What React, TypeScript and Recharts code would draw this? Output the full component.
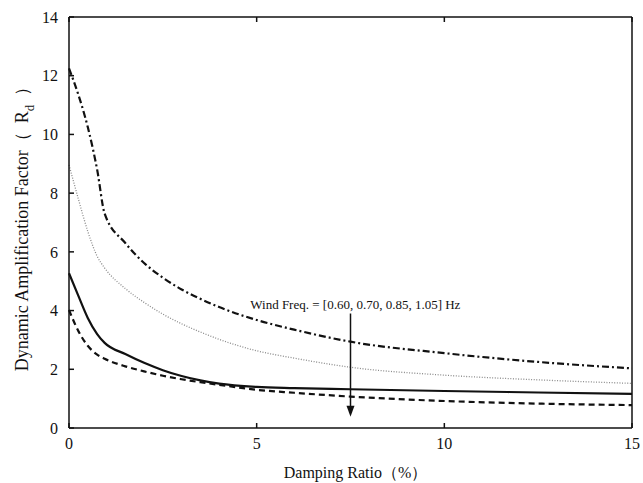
import { Line, LineChart, ReferenceDot, ReferenceLine, XAxis, YAxis, Label } from "recharts";

// damping ratio (%)
const damping = [0, 0.25, 0.5, 0.75, 0.95, 1.5, 2, 2.5, 3, 3.5, 4, 5, 6, 7.5, 10, 12.5, 15];
// dynamic amplification factor Rd for each wind frequency
const rd060 = [12.25, 11.35, 10.25, 8.8, 7.3, 6.3, 5.62, 5.12, 4.72, 4.4, 4.12, 3.68, 3.35, 2.94, 2.55, 2.25, 2.03];
const rd070 = [8.96, 7.8, 6.7, 5.85, 5.45, 4.75, 4.28, 3.88, 3.55, 3.27, 3.02, 2.63, 2.38, 2.07, 1.8, 1.64, 1.52];
const rd085 = [5.27, 4.5, 3.75, 3.2, 2.9, 2.52, 2.22, 1.97, 1.77, 1.62, 1.51, 1.4, 1.36, 1.32, 1.26, 1.21, 1.16];
const rd105 = [4.02, 3.3, 2.8, 2.5, 2.36, 2.1, 1.93, 1.78, 1.66, 1.56, 1.47, 1.3, 1.2, 1.07, 0.92, 0.83, 0.78];

const xTicks = [0, 5, 10, 15];
const yTicks = [0, 2, 4, 6, 8, 10, 12, 14];

const annotation = "Wind Freq. = [0.60, 0.70, 0.85, 1.05] Hz";
const annotationAt = { x: 4.83, y: 4.05 };
const arrowX = 7.5;
const arrowTop = 3.9;
const arrowTip = 0.38;

const data = damping.map((x, i) => ({
    x,
    f060: rd060[i],
    f070: rd070[i],
    f085: rd085[i],
    f105: rd105[i],
}));

const FONT = "'Liberation Serif', 'Times New Roman', serif";
const tickStyle = { fill: "#111", fontSize: 16, fontFamily: FONT };

function YTitle({ viewBox }: any) {
    const cx = viewBox.x + 22;
    const cy = viewBox.y + viewBox.height / 2 + 2;
    return (
        <text
            x={cx}
            y={cy}
            transform={`rotate(-90, ${cx}, ${cy})`}
            textAnchor="middle"
            dominantBaseline="central"
            fontFamily={FONT}
            fontSize={18}
            fill="#111"
        >
            Dynamic Amplification Factor（{"\u2002"}R<tspan baselineShift="sub" fontSize={13}>d</tspan>{"\u2002"}）
        </text>
    );
}

function XTitle({ viewBox }: any) {
    const cx = viewBox.x + viewBox.width / 2 + 5;
    return (
        <text x={cx} y={478} textAnchor="middle" fontFamily={FONT} fontSize={16} fill="#111">
            Damping Ratio（%）
        </text>
    );
}

function AnnotationText({ viewBox }: any) {
    return (
        <text x={viewBox.x} y={viewBox.y} fontFamily={FONT} fontSize={13} fill="#111">
            {annotation}
        </text>
    );
}

function ArrowHead({ cx, cy }: any) {
    return <polygon points={`${cx},${cy} ${cx - 4},${cy - 11} ${cx + 4},${cy - 11}`} fill="#111" />;
}

export default function App() {
    return (
        <div style={{ position: "absolute", left: 0, top: 0, background: "#fff" }}>
            <LineChart
                width={643}
                height={483}
                data={data}
                margin={{ top: 16, right: 10, left: 0, bottom: 14 }}
            >
                <XAxis
                    xAxisId="top"
                    orientation="top"
                    dataKey="x"
                    type="number"
                    domain={[0, 15]}
                    ticks={xTicks}
                    height={1}
                    tickSize={-5}
                    tickFormatter={() => ""}
                    stroke="#111"
                    strokeWidth={1.5}
                />
                <XAxis
                    dataKey="x"
                    type="number"
                    domain={[0, 15]}
                    ticks={xTicks}
                    height={41}
                    tickSize={-5}
                    tickMargin={15}
                    tick={tickStyle}
                    stroke="#111"
                    strokeWidth={1.5}
                >
                    <Label content={XTitle} />
                </XAxis>
                <YAxis
                    domain={[0, 14]}
                    ticks={yTicks}
                    width={69}
                    tickSize={-5}
                    tickMargin={16}
                    tick={tickStyle}
                    stroke="#111"
                    strokeWidth={1.5}
                >
                    <Label content={YTitle} />
                </YAxis>
                <YAxis
                    yAxisId="right"
                    orientation="right"
                    domain={[0, 14]}
                    ticks={yTicks}
                    width={1}
                    tickSize={-5}
                    tickFormatter={() => ""}
                    stroke="#111"
                    strokeWidth={1.5}
                />
                <Line type="monotone" dataKey="f060" stroke="#111" strokeWidth={2.2} strokeDasharray="7 3 2 3" dot={false} isAnimationActive={false} />
                <Line type="monotone" dataKey="f070" stroke="#8a8a8a" strokeWidth={1.3} strokeDasharray="1 1.6" dot={false} isAnimationActive={false} />
                <Line type="monotone" dataKey="f085" stroke="#111" strokeWidth={2.2} dot={false} isAnimationActive={false} />
                <Line type="monotone" dataKey="f105" stroke="#111" strokeWidth={2.2} strokeDasharray="6 4" dot={false} isAnimationActive={false} />
                <ReferenceLine
                    segment={[{ x: arrowX, y: arrowTop }, { x: arrowX, y: arrowTip + 0.3 }]}
                    stroke="#111"
                    strokeWidth={1.5}
                />
                <ReferenceDot x={arrowX} y={arrowTip} r={0} shape={ArrowHead} />
                <ReferenceDot x={annotationAt.x} y={annotationAt.y} r={0} stroke="none" fill="none">
                    <Label content={AnnotationText} />
                </ReferenceDot>
            </LineChart>
        </div>
    );
}
